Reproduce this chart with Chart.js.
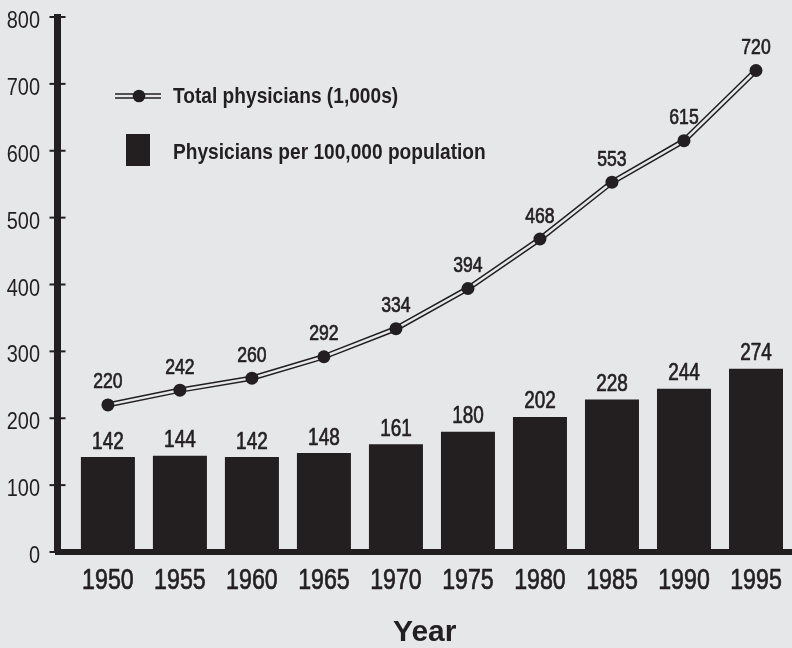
<!DOCTYPE html>
<html>
<head>
<meta charset="utf-8">
<script src="https://cdn.jsdelivr.net/npm/chart.js@4/dist/chart.umd.min.js"></script>
<style>
  html, body { margin: 0; padding: 0; background: #e6e7e9; }
  canvas { display: block; }
</style>
</head>
<body>
<canvas id="chart" width="792" height="648"></canvas>
<script>
// Data
const years = [1950, 1955, 1960, 1965, 1970, 1975, 1980, 1985, 1990, 1995];
const totalPhysicians = [220, 242, 260, 292, 334, 394, 468, 553, 615, 720];   // in 1,000s
const perHundredThousand = [142, 144, 142, 148, 161, 180, 202, 228, 244, 274];
const yTicks = [0, 100, 200, 300, 400, 500, 600, 700, 800];
const lineLabel = 'Total physicians (1,000s)';
const barLabel = 'Physicians per 100,000 population';

const INK = '#231f20';
const BG = '#e6e7e9';
const SANS = '"Liberation Sans", Arial, sans-serif';

// no narrow face installed, so squeeze the regular one horizontally
// (heavy > 0 adds a thin outline to fake a medium weight)
function narrowText(ctx, text, x, y, font, align, sx, heavy) {
    ctx.save();
    ctx.font = font;
    ctx.textAlign = align;
    ctx.textBaseline = 'alphabetic';
    ctx.fillStyle = INK;
    ctx.translate(x, y);
    ctx.scale(sx, 1);
    ctx.fillText(text, 0, 0);
    if (heavy) {
        ctx.strokeStyle = INK;
        ctx.lineWidth = heavy;
        ctx.lineJoin = 'round';
        ctx.strokeText(text, 0, 0);
    }
    ctx.restore();
}

// Axis labels + tick marks that cross the y axis line
const axisLabels = {
    id: 'axisLabels',
    afterDraw(chart) {
        const ctx = chart.ctx;
        const xs = chart.scales.x;
        const ys = chart.scales.y;
        const x0 = chart.chartArea.left;
        ctx.save();
        ctx.strokeStyle = INK;
        ctx.lineWidth = 2;
        yTicks.forEach(v => {
            const py = ys.getPixelForValue(v);
            ctx.beginPath();
            ctx.moveTo(x0 - 8, py);
            ctx.lineTo(x0 + 8, py);
            ctx.stroke();
            narrowText(ctx, String(v), 40, py + 11, '24px ' + SANS, 'right', 0.83, 0);
        });
        years.forEach(yr => {
            narrowText(ctx, String(yr), xs.getPixelForValue(yr), 589, '29px ' + SANS, 'center', 0.8, 0.7);
        });
        ctx.restore();
    }
};

// Value labels above bars and points
const valueLabels = {
    id: 'valueLabels',
    afterDatasetsDraw(chart) {
        const ctx = chart.ctx;
        chart.getDatasetMeta(0).data.forEach((bar, i) => {
            narrowText(ctx, String(perHundredThousand[i]), bar.x, bar.y - 8.5, '24px ' + SANS, 'center', 0.79, 0.7);
        });
        chart.getDatasetMeta(3).data.forEach((pt, i) => {
            narrowText(ctx, String(totalPhysicians[i]), pt.x, pt.y - 16.5, '22px ' + SANS, 'center', 0.8, 0.7);
        });
    }
};

// Legend drawn by hand, to get the double line symbol
const handLegend = {
    id: 'handLegend',
    afterDraw(chart) {
        const ctx = chart.ctx;
        ctx.save();
        ctx.strokeStyle = INK;
        ctx.lineWidth = 5.5;
        ctx.beginPath(); ctx.moveTo(115, 96); ctx.lineTo(161, 96); ctx.stroke();
        ctx.strokeStyle = BG;
        ctx.lineWidth = 2.5;
        ctx.beginPath(); ctx.moveTo(115, 96); ctx.lineTo(161, 96); ctx.stroke();
        ctx.fillStyle = INK;
        ctx.beginPath(); ctx.arc(139, 96, 6.3, 0, Math.PI * 2); ctx.fill();
        ctx.fillRect(126, 134, 24, 32);
        ctx.restore();
        narrowText(ctx, lineLabel, 173, 102.7, 'bold 22px ' + SANS, 'left', 0.87, 0);
        narrowText(ctx, barLabel, 173, 158.5, 'bold 22px ' + SANS, 'left', 0.87, 0);
    }
};

const ctx = document.getElementById('chart').getContext('2d');

new Chart(ctx, {
    data: {
        labels: years,
        datasets: [
            {
                type: 'bar',
                label: barLabel,
                data: perHundredThousand,
                backgroundColor: INK,
                borderWidth: 0,
                barPercentage: 0.75,
                categoryPercentage: 1,
                order: 4
            },
            {
                // dark outer stroke of the double line
                type: 'line',
                data: totalPhysicians,
                borderColor: INK,
                borderWidth: 5.5,
                pointRadius: 0,
                tension: 0,
                order: 3
            },
            {
                // light inner stroke of the double line
                type: 'line',
                data: totalPhysicians,
                borderColor: BG,
                borderWidth: 2.5,
                pointRadius: 0,
                tension: 0,
                order: 2
            },
            {
                type: 'line',
                label: lineLabel,
                data: totalPhysicians,
                showLine: false,
                pointRadius: 6.5,
                pointBackgroundColor: INK,
                pointBorderWidth: 0,
                order: 1
            }
        ]
    },
    options: {
        responsive: false,
        animation: false,
        layout: { autoPadding: false, padding: { top: 17, right: 0, left: 0, bottom: 0 } },
        plugins: {
            legend: { display: false },
            tooltip: { enabled: false }
        },
        scales: {
            x: {
                type: 'linear',
                offset: false,
                min: 1946.5,
                max: 1997.5,
                afterFit: scale => { scale.height = 96; },
                grid: { display: false, drawTicks: false },
                border: { display: true, color: INK, width: 6 },
                ticks: { display: false },
                title: {
                    display: true,
                    text: 'Year',
                    color: INK,
                    font: { family: SANS, size: 30, weight: 'bold', lineHeight: 1 },
                    padding: 0
                }
            },
            y: {
                min: 0,
                max: 800,
                afterFit: scale => { scale.width = 57.5; },
                grid: { display: false, drawTicks: false },
                border: { display: true, color: INK, width: 7 },
                ticks: { display: false }
            }
        }
    },
    plugins: [axisLabels, valueLabels, handLegend]
});
</script>
</body>
</html>
